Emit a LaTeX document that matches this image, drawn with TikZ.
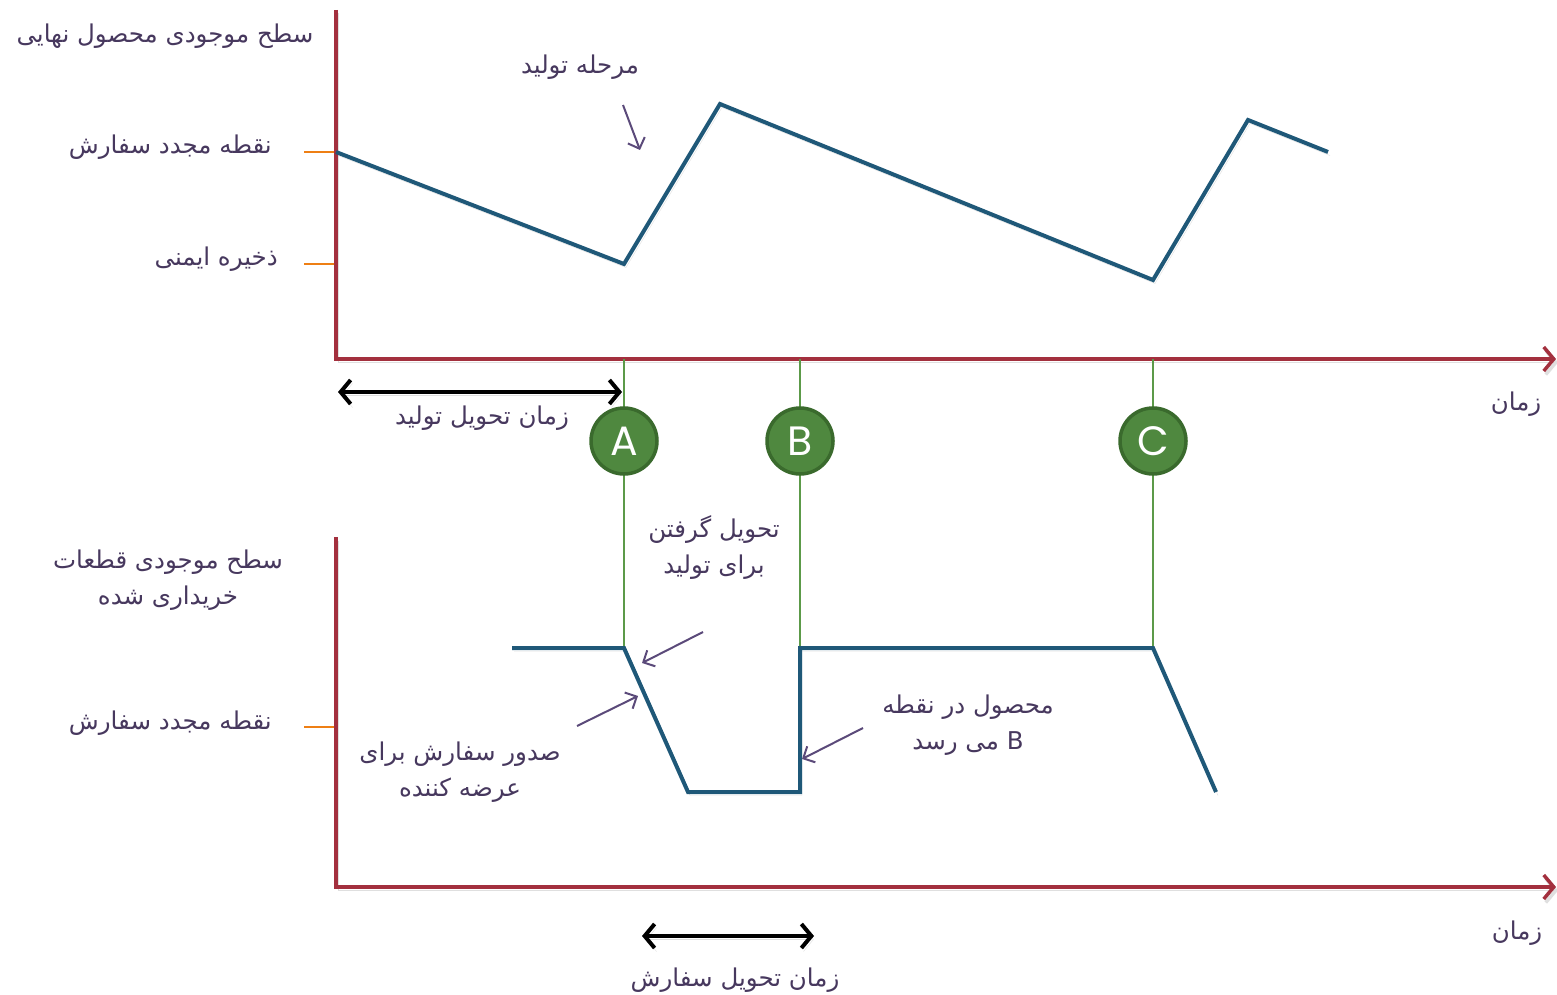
\documentclass[tikz,border=0pt]{standalone}
\usepackage{fontspec}
\usetikzlibrary{arrows.meta}
\TeXXeTstate=1
\newfontfamily\arabicfont[Script=Arabic]{DejaVu Sans}
\newfontfamily\letterfont{Poppins}
\newcommand\fa[1]{{\arabicfont\beginR #1\endR}}
\definecolor{axisred}{HTML}{A3303E}
\definecolor{curveblue}{HTML}{1F5878}
\definecolor{tickorange}{HTML}{EE7F14}
\definecolor{markgreen}{HTML}{4F883F}
\definecolor{markedge}{HTML}{3A6A2D}
\definecolor{guidegreen}{HTML}{5C9A49}
\definecolor{labelpurple}{HTML}{47385E}
\definecolor{notepurple}{HTML}{5B4A7A}
\tikzset{
  softshadow/.style={preaction={draw=black!25, opacity=0.5,
      transform canvas={shift={(2pt,-3.5pt)}}}},
  axisline/.style={draw=axisred, line width=4pt, line join=miter,
      -{Straight Barb[length=10pt,width=24pt,line width=3.5pt]}, softshadow},
  curve/.style={draw=curveblue, line width=4pt, line join=miter, softshadow},
  tickline/.style={draw=tickorange, line width=1.8pt},
  guide/.style={draw=guidegreen, line width=1.5pt},
  spanarrow/.style={draw=black, line width=4pt,
      {Straight Barb[length=10pt,width=24pt,line width=4pt]}-{Straight Barb[length=10pt,width=24pt,line width=4pt]}, softshadow},
  note/.style={draw=notepurple, line width=2pt,
      -{Straight Barb[length=9pt,width=18pt,line width=2pt]}},
  txt/.style={text=labelpurple, font=\fontsize{24.5}{36}\selectfont, align=center, inner sep=0pt},
  marker/.style={circle, fill=markgreen, draw=markedge, line width=3.5pt,
      minimum size=66pt, inner sep=0pt, text=white,
      font=\letterfont\fontsize{41}{41}\selectfont},
}
\begin{document}
\begin{tikzpicture}[x=1pt,y=-1pt]
\useasboundingbox (0,0) rectangle (1557,995);

% reference-level ticks on the vertical axes
\draw[tickline] (304,152) -- (336,152);
\draw[tickline] (304,264) -- (336,264);
\draw[tickline] (304,727) -- (336,727);

% axes of the two charts
\draw[axisline] (336,10) -- (336,359) -- (1556,359);
\draw[axisline] (336,537) -- (336,887) -- (1556,887);

% points A, B, C and their guide lines
\coordinate (axA) at (624,359);
\coordinate (axB) at (800,359);
\coordinate (axC) at (1153,359);
\coordinate (lowA) at (624,648);
\coordinate (lowB) at (800,648);
\coordinate (lowC) at (1153,648);
\draw[guide] (axA) -- (lowA);
\draw[guide] (axB) -- (lowB);
\draw[guide] (axC) -- (lowC);
\node[marker] (markA) at (624,441) {A};
\node[marker] (markB) at (800,441) {B};
\node[marker] (markC) at (1153,441) {C};

% finished-goods stock level
\coordinate (f0) at (336,152);
\coordinate (f1) at (624,264);
\coordinate (f2) at (720,104);
\coordinate (f3) at (1153,280);
\coordinate (f4) at (1248,120);
\coordinate (f5) at (1328,152);
\draw[curve] (f0) -- (f1) -- (f2) -- (f3) -- (f4) -- (f5);

% purchased-parts stock level
\coordinate (p0) at (512,648);
\coordinate (p1) at (688,792);
\coordinate (p2) at (800,792);
\coordinate (p3) at (1216,792);
\draw[curve] (p0) -- (lowA) -- (p1) -- (p2) -- (lowB) -- (lowC) -- (p3);

% lead-time spans
\coordinate (ltL) at (338,392);
\coordinate (ltR) at (622,392);
\draw[spanarrow] (ltL) -- (ltR);
\coordinate (otL) at (642,936);
\coordinate (otR) at (814,936);
\draw[spanarrow] (otL) -- (otR);

% axis titles and level labels
\node[txt] (topy) at (165,36) {\fa{سطح موجودی محصول نهایی}};
\node[txt, anchor=east] (reorder1) at (272,147) {\fa{نقطه مجدد سفارش}};
\node[txt, anchor=east] (safety) at (278,259) {\fa{ذخیره ایمنی}};
\node[txt] (time1) at (1516,404) {\fa{زمان}};
\node[txt] (prodlt) at (482,418) {\fa{زمان تحویل تولید}};
\node[txt] (boty) at (168,580) {\fa{سطح موجودی قطعات}\\\fa{خریداری شده}};
\node[txt, anchor=east] (reorder2) at (272,723) {\fa{نقطه مجدد سفارش}};
\node[txt] (time2) at (1517,933) {\fa{زمان}};
\node[txt] (orderlt) at (735,980) {\fa{زمان تحویل سفارش}};

% annotations with their pointers
\node[txt] (stage) at (580,67) {\fa{مرحله تولید}};
\coordinate (stageS) at (623,105);
\coordinate (stageE) at (640,150);
\draw[note] (stageS) -- (stageE);

\node[txt] (receive) at (714,548) {\fa{تحویل گرفتن}\\\fa{برای تولید}};
\coordinate (recvS) at (703,632);
\coordinate (recvE) at (642,663);
\draw[note] (recvS) -- (recvE);

\node[txt] (issue) at (460,772) {\fa{صدور سفارش برای}\\\fa{عرضه کننده}};
\coordinate (issueS) at (577,726);
\coordinate (issueE) at (638,696);
\draw[note] (issueS) -- (issueE);

\node[txt] (arrive) at (968,725) {\fa{محصول در نقطه}\\\fa{B می رسد}};
\coordinate (arrS) at (863,728);
\coordinate (arrE) at (802,759);
\draw[note] (arrS) -- (arrE);
\end{tikzpicture}
\end{document}
